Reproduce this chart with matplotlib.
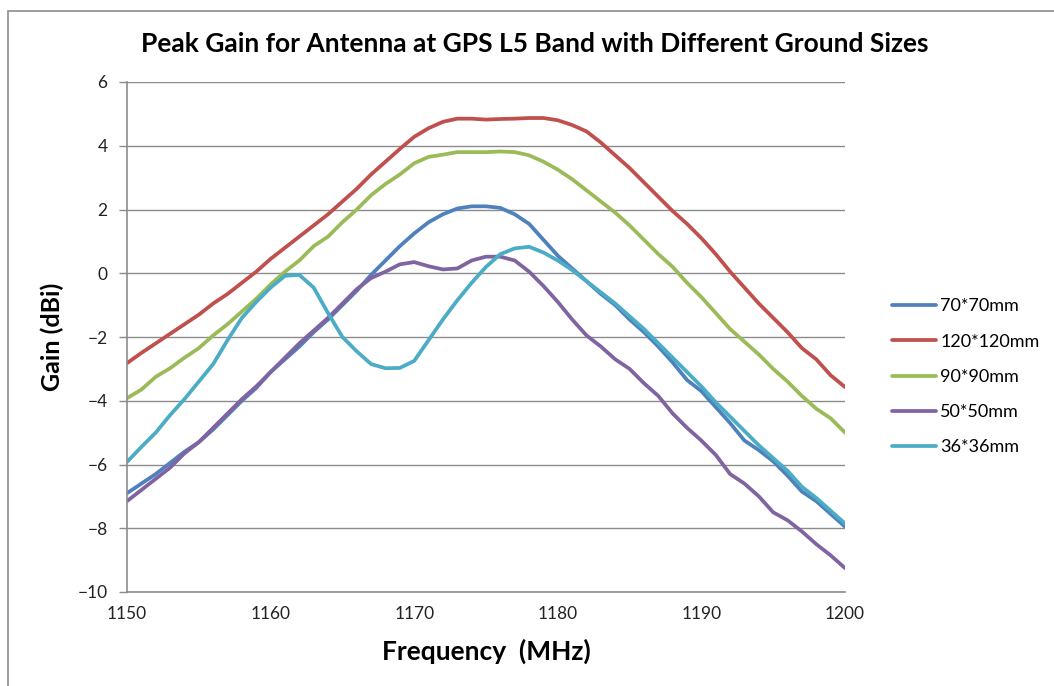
import numpy as np
import matplotlib
matplotlib.use("Agg")
import matplotlib.pyplot as plt
from matplotlib.patches import Rectangle

freq = list(range(1150, 1201))

g70 = [-6.9, -6.6, -6.3, -5.95, -5.6, -5.3, -4.9, -4.45, -4.0, -3.6,
       -3.1, -2.7, -2.3, -1.85, -1.45, -1.0, -0.55, -0.05, 0.4, 0.85,
       1.25, 1.6, 1.85, 2.03, 2.1, 2.1, 2.05, 1.85, 1.55, 1.05,
       0.55, 0.15, -0.25, -0.65, -1.0, -1.45, -1.85, -2.3, -2.8, -3.35,
       -3.7, -4.2, -4.7, -5.25, -5.55, -5.9, -6.35, -6.85, -7.15, -7.55, -7.95]
g120 = [-2.82, -2.5, -2.2, -1.9, -1.6, -1.3, -0.95, -0.65, -0.3, 0.05,
        0.45, 0.8, 1.15, 1.5, 1.85, 2.25, 2.65, 3.1, 3.5, 3.9,
        4.28, 4.55, 4.75, 4.85, 4.85, 4.82, 4.84, 4.85, 4.87, 4.87,
        4.8, 4.65, 4.45, 4.1, 3.7, 3.3, 2.85, 2.4, 1.95, 1.55,
        1.1, 0.6, 0.05, -0.45, -0.95, -1.4, -1.85, -2.35, -2.7, -3.2, -3.57]
g90 = [-3.92, -3.65, -3.25, -2.98, -2.65, -2.35, -1.95, -1.6, -1.2, -0.8,
       -0.35, 0.05, 0.4, 0.85, 1.15, 1.6, 2.0, 2.45, 2.8, 3.1,
       3.45, 3.65, 3.72, 3.8, 3.8, 3.8, 3.82, 3.8, 3.7, 3.5,
       3.25, 2.95, 2.6, 2.25, 1.9, 1.5, 1.05, 0.6, 0.2, -0.3,
       -0.75, -1.25, -1.75, -2.15, -2.55, -3.0, -3.4, -3.85, -4.25, -4.55, -5.0]
g50 = [-7.15, -6.8, -6.45, -6.1, -5.65, -5.3, -4.85, -4.4, -3.95, -3.55,
       -3.1, -2.65, -2.2, -1.8, -1.4, -0.95, -0.5, -0.15, 0.05, 0.28,
       0.35, 0.22, 0.12, 0.15, 0.4, 0.52, 0.52, 0.4, 0.05, -0.4,
       -0.9, -1.45, -1.95, -2.3, -2.7, -3.0, -3.45, -3.85, -4.4, -4.85,
       -5.25, -5.7, -6.3, -6.6, -7.0, -7.5, -7.75, -8.1, -8.5, -8.85, -9.25]
g36 = [-5.92, -5.45, -5.0, -4.45, -3.95, -3.4, -2.85, -2.1, -1.4, -0.9,
       -0.45, -0.08, -0.05, -0.45, -1.25, -2.0, -2.45, -2.85, -2.98, -2.97,
       -2.75, -2.1, -1.45, -0.85, -0.3, 0.2, 0.6, 0.78, 0.83, 0.65,
       0.4, 0.1, -0.25, -0.6, -0.95, -1.35, -1.75, -2.2, -2.65, -3.1,
       -3.55, -4.05, -4.5, -4.95, -5.4, -5.8, -6.2, -6.7, -7.05, -7.45, -7.85]

labels = ["70*70mm", "120*120mm", "90*90mm", "50*50mm", "36*36mm"]
colors = ["#4F81BD", "#C0504D", "#9BBB59", "#8064A2", "#4BACC6"]
series = [g70, g120, g90, g50, g36]

plt.rcParams['font.family'] = ['Lato', 'DejaVu Sans']

fig = plt.figure(figsize=(10.54, 6.86), dpi=100)
ax = fig.add_axes([127/1054, 1-592/686, (845-127)/1054, (592-82)/686])

for s, c, l in zip(series, colors, labels):
    ax.plot(freq, s, color=c, lw=2.7, label=l, solid_capstyle='round', solid_joinstyle='round')

ax.set_xlim(1150, 1200)
ax.set_ylim(-10, 6)
ax.set_xticks(range(1150, 1201, 10))
ax.set_yticks(range(-10, 7, 2))
ax.yaxis.grid(True, color='#8C8C8C', lw=1.0)
ax.set_axisbelow(True)
for sp in ['top', 'right']:
    ax.spines[sp].set_visible(False)
for sp in ['left', 'bottom']:
    ax.spines[sp].set_color('#8C8C8C')
    ax.spines[sp].set_linewidth(1.2)
ax.tick_params(axis='y', direction='out', length=6, color='#8C8C8C', width=1.0,
               labelsize=12.5, labelcolor='#222222', pad=8)
ax.tick_params(axis='x', length=0, labelsize=12.5, labelcolor='#222222', pad=10)

ax.set_xlabel("Frequency  (MHz)", fontsize=19, fontweight='bold')
ax.xaxis.set_label_coords(0.5, (592-639)/510)
ax.set_ylabel("Gain (dBi)", fontsize=18, fontweight='bold')
ax.yaxis.set_label_coords((64-127)/718, 0.5)
fig.text(535/1054, 1-44/686, "Peak Gain for Antenna at GPS L5 Band with Different Ground Sizes",
         ha='center', va='center', fontsize=19, fontweight='bold')

leg = fig.legend(loc='upper left', bbox_to_anchor=(885/1054, 1-291/686), frameon=False,
                 fontsize=13, handlelength=2.4, handletextpad=0.25, labelspacing=1.07,
                 borderaxespad=0)

fig.add_artist(Rectangle((8/1054, -0.1), 1.2, 1.1 - 11/686, transform=fig.transFigure,
                         fill=False, edgecolor='#8C8C8C', lw=1.2))

fig.savefig("out.png", dpi=100)
